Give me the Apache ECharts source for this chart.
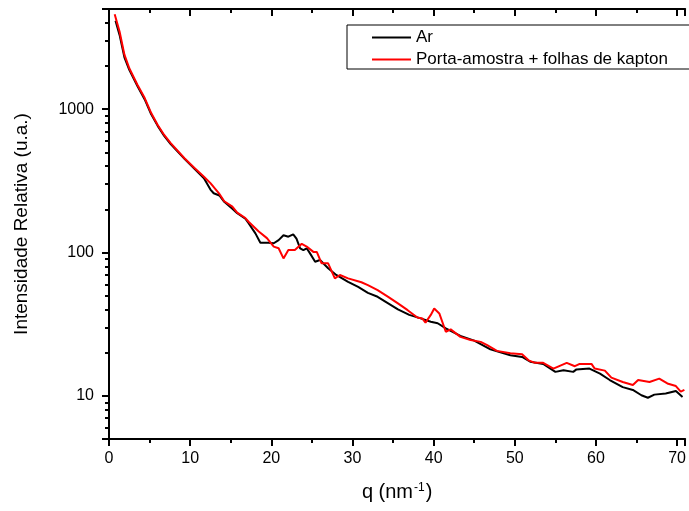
<!DOCTYPE html>
<html>
<head>
<meta charset="utf-8">
<script src="https://cdn.jsdelivr.net/npm/echarts@6/dist/echarts.min.js"></script>
<style>
html,body{margin:0;padding:0;background:#fff;}
#chart{width:689px;height:511px;}
</style>
</head>
<body>
<div id="chart"></div>
<script>
// Ar
const qAr = [0.8,1.3,1.9,2.5,3.5,4.4,5.2,6.0,6.8,7.6,9.3,10.5,11.7,12.5,12.9,13.6,14.2,15.2,15.8,16.8,17.2,18.04,18.65,19.67,20.3,20.9,21.5,22.1,22.7,23.1,23.55,23.95,24.36,24.77,25.4,26.0,27.0,28.0,29.46,30.7,31.9,33.1,34.4,35.6,37.0,38.4,39.65,40.5,41.5,43.3,45.0,47.0,49.45,50.9,51.9,53.5,55.0,56.0,57.2,57.6,59.2,60.5,61.7,63.3,64.55,65.6,66.4,67.2,68.6,69.85,70.67];
const ar = [4140,3300,2300,1880,1450,1170,920,765,650,570,450,385,330,275,259,250,226,202,188,172,160,136,117,117,116,122,132,129,134,125,107,104,107,98.6,86.3,88.6,77.6,69.7,62.5,57.5,52.3,49.1,44.2,40.1,36.7,34.7,32.9,32.1,29.6,26.2,24.3,21.1,19.2,18.7,17.3,16.7,14.7,15.1,14.7,15.3,15.5,14.3,12.9,11.5,11.0,10.1,9.7,10.2,10.4,10.8,9.8];
// Porta-amostra + folhas de kapton
const qKapton = [0.7,1.3,1.9,2.5,3.5,4.4,5.2,6.0,6.8,7.6,9.3,10.5,11.7,12.5,13.55,14.2,15.2,15.8,16.8,17.2,18.45,19.46,20.3,20.9,21.5,22.1,22.9,23.75,24.36,25.18,25.6,26.2,27.0,27.83,28.45,29.46,31.1,31.9,33.1,34.4,35.6,36.8,38.0,38.6,39.0,39.65,40.07,40.7,41.5,42.1,43.3,44.55,45.8,46.6,47.8,49.45,50.9,51.7,52.5,53.5,54.76,56.4,57.4,58.0,59.45,59.85,61.1,61.9,63.3,64.55,65.2,66.6,67.8,68.8,69.85,70.45,70.9];
const kapton = [4600,3480,2400,1930,1480,1195,940,776,661,580,455,390,338,305,259,228,209,190,174,164,140,126,110,107,91,104,104,115,110,101,101,84,84,66,69.7,66,62,59.3,54.7,49.1,44.2,39.6,35.2,34.7,32.4,36.7,40.7,37.6,28.0,29.1,25.8,24.5,23.8,22.6,20.6,19.8,19.5,17.7,17.0,17.0,15.5,17.0,16.1,16.7,16.7,15.5,15.0,13.4,12.5,11.9,12.9,12.5,13.2,12.2,11.7,10.7,11.0];
const seriesNames = ['Ar','Porta-amostra + folhas de kapton'];
const xTicks = [0,10,20,30,40,50,60,70];
const yTicks = [10,100,1000];

const FONT = "'Liberation Sans', Arial, sans-serif";
const zip = (xs, ys) => xs.map((x, i) => [x, ys[i]]);

const chart = echarts.init(document.getElementById('chart'), null, {renderer:'canvas'});
const axisLine = {show:true, lineStyle:{color:'#000', width:2}};
chart.setOption({
  animation:false,
  backgroundColor:'#fff',
  grid:{left:109, top:9, right:0, bottom:72, containLabel:false},
  legend:{
    left:347, top:25, orient:'vertical',
    padding:[4,40,1,25],
    itemGap:5, itemWidth:39, itemHeight:2,
    borderColor:'#000', borderWidth:1, backgroundColor:'#fff',
    textStyle:{fontFamily:FONT, fontSize:17, color:'#000', lineHeight:17},
    data:seriesNames.map(n => ({name:n, icon:'rect'}))
  },
  xAxis:[{
    type:'value', min:0, max:71, interval:10,
    name:'{a|q (nm}{s|-1}{a|)}', nameLocation:'middle', nameGap:43,
    nameTextStyle:{rich:{
      a:{fontFamily:FONT, fontSize:20, color:'#000'},
      s:{fontFamily:FONT, fontSize:12, color:'#000', verticalAlign:'top', padding:[0,1,8,1]}
    }},
    axisLine:axisLine,
    axisTick:{show:true, inside:false, length:7, lineStyle:{color:'#000', width:2}},
    minorTick:{show:true, splitNumber:2, length:4, lineStyle:{color:'#000', width:2}},
    axisLabel:{fontFamily:FONT, fontSize:16, color:'#000', margin:12,
      formatter:v => xTicks.includes(v) ? String(v) : ''},
    splitLine:{show:false}
  },{
    type:'value', min:0, max:71, interval:10, position:'top',
    axisLine:axisLine,
    axisTick:{show:true, inside:true, length:7, lineStyle:{color:'#000', width:2}},
    minorTick:{show:true, splitNumber:2, length:4, lineStyle:{color:'#000', width:2}},
    axisLabel:{show:false}, splitLine:{show:false}
  }],
  yAxis:{
    type:'log', logBase:10, min:5, max:5000,
    name:'Intensidade Relativa (u.a.)', nameLocation:'middle', nameGap:78,
    nameTextStyle:{fontFamily:FONT, fontSize:19, color:'#000'},
    axisLine:axisLine,
    axisTick:{show:true, inside:false, length:7, lineStyle:{color:'#000', width:2}},
    minorTick:{show:true, splitNumber:9, length:4, lineStyle:{color:'#000', width:2}},
    axisLabel:{fontFamily:FONT, fontSize:16, color:'#000', margin:15,
      formatter:v => yTicks.includes(Math.round(v)) ? String(Math.round(v)) : ''},
    splitLine:{show:false}
  },
  series:[{
    name:seriesNames[0], type:'line', data:zip(qAr, ar), symbol:'none',
    lineStyle:{color:'#000', width:2}, itemStyle:{color:'#000'}, z:2
  },{
    name:seriesNames[1], type:'line', data:zip(qKapton, kapton), symbol:'none',
    lineStyle:{color:'#ff0000', width:2}, itemStyle:{color:'#ff0000'}, z:3
  }]
});
</script>
</body>
</html>
